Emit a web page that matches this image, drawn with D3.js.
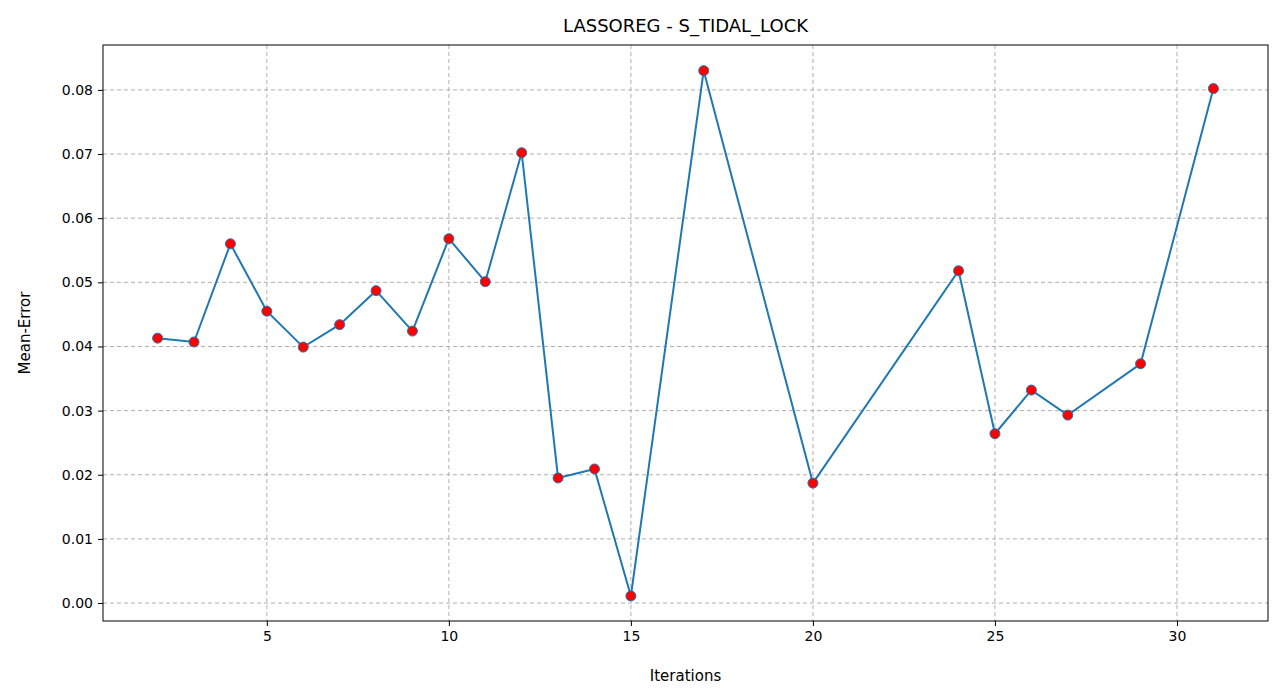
<!DOCTYPE html>
<html lang="en">
<head>
<meta charset="UTF-8">
<title>LASSOREG - S_TIDAL_LOCK</title>
<style>
  body { margin: 0; background: #fff; }
  svg { display: block; font-family: "DejaVu Sans", sans-serif; }
  .grid line { stroke: #b0b0b0; stroke-dasharray: 4,3; stroke-width: 1; }
</style>
</head>
<body>
<svg id="chart" width="1281" height="700"></svg>
<script src="https://d3js.org/d3.v7.min.js"></script>
<script>
  // Data
  const iterations = [2, 3, 4, 5, 6, 7, 8, 9, 10, 11, 12, 13, 14, 15, 17, 20, 24, 25, 26, 27, 29, 31];
  const meanError = [0.0413, 0.0407, 0.0560, 0.0455, 0.0399, 0.0434, 0.0487, 0.0424, 0.0568, 0.0501,
                     0.0702, 0.0195, 0.0209, 0.0011, 0.0830, 0.0187, 0.0518, 0.0264, 0.0332, 0.0293,
                     0.0373, 0.0802];
  const xTicks = [5, 10, 15, 20, 25, 30];
  const yTicks = [0, 0.01, 0.02, 0.03, 0.04, 0.05, 0.06, 0.07, 0.08];

  const svg = d3.select("#chart");
  const margin = {top: 45, right: 13, bottom: 79, left: 103};
  const width = 1281 - margin.left - margin.right,
        height = 700 - margin.top - margin.bottom;

  const x = d3.scaleLinear().domain([0.5, 32.5]).range([0, width]);
  const y = d3.scaleLinear().domain([-0.0028, 0.087]).range([height, 0]);

  const g = svg.append("g").attr("transform", `translate(${margin.left},${margin.top})`);

  // Grid
  g.append("g").attr("class", "grid")
    .selectAll("line").data(xTicks).enter().append("line")
    .attr("x1", d => x(d)).attr("x2", d => x(d)).attr("y1", 0).attr("y2", height);
  g.append("g").attr("class", "grid")
    .selectAll("line").data(yTicks).enter().append("line")
    .attr("y1", d => y(d)).attr("y2", d => y(d)).attr("x1", 0).attr("x2", width);

  // Axes
  g.append("g")
    .attr("transform", `translate(0,${height})`)
    .call(d3.axisBottom(x).tickValues(xTicks).tickSize(5).tickPadding(5))
    .attr("font-size", 14).attr("font-family", "DejaVu Sans")
    .call(a => a.select(".domain").remove());
  g.append("g")
    .call(d3.axisLeft(y).tickValues(yTicks).tickFormat(d3.format(".2f")).tickSize(5).tickPadding(5))
    .attr("font-size", 14).attr("font-family", "DejaVu Sans")
    .call(a => a.select(".domain").remove());

  g.append("rect").attr("width", width).attr("height", height)
    .attr("fill", "none").attr("stroke", "#000").attr("stroke-width", 1);

  // Line + markers
  const pts = iterations.map((d, i) => [d, meanError[i]]);
  g.append("path").datum(pts)
    .attr("fill", "none").attr("stroke", "#1f77b4").attr("stroke-width", 2)
    .attr("d", d3.line().x(d => x(d[0])).y(d => y(d[1])));
  g.selectAll(".pt").data(pts).enter().append("circle")
    .attr("cx", d => x(d[0])).attr("cy", d => y(d[1])).attr("r", 5)
    .attr("fill", "red").attr("stroke", "#1f77b4").attr("stroke-width", 1);

  // Labels
  svg.append("text").attr("x", margin.left + width / 2).attr("y", 32)
    .attr("text-anchor", "middle").attr("font-size", 18).text("LASSOREG - S_TIDAL_LOCK");
  svg.append("text").attr("x", margin.left + width / 2).attr("y", 681)
    .attr("text-anchor", "middle").attr("font-size", 15).text("Iterations");
  svg.append("text").attr("transform", `translate(30,${margin.top + height / 2}) rotate(-90)`)
    .attr("text-anchor", "middle").attr("font-size", 15).text("Mean-Error");
</script>
</body>
</html>
